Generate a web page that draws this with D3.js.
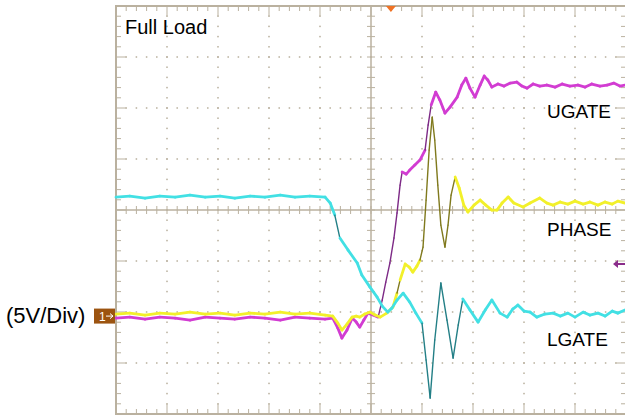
<!DOCTYPE html>
<html>
<head>
<meta charset="utf-8">
<script src="https://cdn.jsdelivr.net/npm/d3@7"></script>
<style>
  html, body { margin: 0; padding: 0; background: #fff; }
  svg { display: block; font-family: "Liberation Sans", Arial, sans-serif; }
</style>
</head>
<body>
<script>
const width = 625;
const height = 416;

// scope settings
const voltsPerDiv = 5;
const groundDiv = -2.08;   // channel ground marker, in divisions from centre

// traces: [time (div), volts]
const lgate = [
  [-5.00, 11.67], [-4.73, 11.76], [-4.43, 11.57], [-4.14, 11.76], [-3.84, 11.67], [-3.55, 11.86],
  [-3.25, 11.67], [-2.96, 11.76], [-2.67, 11.57], [-2.37, 11.76], [-2.08, 11.67], [-1.78, 11.86],
  [-1.49, 11.67], [-1.20, 11.76], [-0.90, 11.67], [-0.80, 11.08], [-0.71, 9.90], [-0.61, 7.65],
  [-0.45, 6.47], [-0.27, 5.20], [-0.18, 4.02], [-0.02, 2.84], [0.12, 1.86], [0.22, 0.98],
  [0.33, 0.39], [0.41, 0.78], [0.51, 1.57], [0.63, 2.25], [0.76, 1.37], [0.88, 0.29],
  [1.00, -0.69], [1.08, -4.31], [1.16, -8.04], [1.25, -2.35], [1.37, 3.24], [1.49, -0.39],
  [1.61, -4.12], [1.71, -0.88], [1.80, 1.67], [1.94, 0.59], [2.10, -0.59], [2.24, 0.59],
  [2.37, 1.57], [2.53, 0.29], [2.67, -0.10], [2.78, 0.69], [2.88, 1.08], [3.00, 0.49],
  [3.12, 0.39], [3.25, -0.10], [3.41, 0.20], [3.57, 0.29], [3.71, 0.00], [3.86, 0.29],
  [4.00, -0.10], [4.16, 0.39], [4.29, 0.10], [4.45, 0.29], [4.59, 0.00], [4.73, 0.49],
  [4.84, 0.29], [4.98, 0.59]
];

const ugate = [
  [-5.00, -0.20], [-4.73, -0.10], [-4.43, -0.29], [-4.14, -0.10], [-3.84, -0.20], [-3.55, -0.39],
  [-3.25, -0.10], [-2.96, -0.20], [-2.67, -0.29], [-2.37, -0.10], [-2.08, -0.20], [-1.78, -0.39],
  [-1.49, -0.10], [-1.20, -0.20], [-0.90, -0.29], [-0.75, -0.20], [-0.65, -1.18], [-0.57, -2.16],
  [-0.47, -1.37], [-0.37, -0.20], [-0.29, -0.59], [-0.22, -1.08], [-0.14, -0.39], [-0.06, 0.29],
  [0.04, 0.10], [0.14, -0.10], [0.22, 1.57], [0.29, 3.33], [0.37, 5.20], [0.45, 7.65],
  [0.51, 10.10], [0.57, 12.84], [0.61, 14.12], [0.69, 13.92], [0.76, 14.31], [0.86, 14.80],
  [0.96, 15.29], [1.06, 16.27], [1.12, 18.73], [1.18, 20.69], [1.27, 21.96], [1.35, 21.18],
  [1.45, 19.90], [1.55, 20.49], [1.69, 21.47], [1.78, 22.65], [1.86, 23.33], [1.94, 22.35],
  [2.04, 21.47], [2.14, 22.65], [2.22, 23.53], [2.29, 23.14], [2.37, 22.45], [2.49, 22.75],
  [2.61, 22.55], [2.73, 22.84], [2.86, 22.94], [2.96, 22.55], [3.06, 22.35], [3.18, 22.75],
  [3.31, 22.55], [3.45, 22.65], [3.61, 22.45], [3.75, 22.75], [3.90, 22.55], [4.06, 22.65],
  [4.20, 22.45], [4.33, 22.75], [4.49, 22.55], [4.63, 22.65], [4.76, 22.84], [4.88, 22.55],
  [4.98, 22.65]
];

const phase = [
  [-5.00, 0.20], [-4.73, 0.29], [-4.43, 0.10], [-4.14, 0.29], [-3.84, 0.20], [-3.55, 0.39],
  [-3.25, 0.20], [-2.96, 0.29], [-2.67, 0.10], [-2.37, 0.29], [-2.08, 0.20], [-1.78, 0.39],
  [-1.49, 0.20], [-1.20, 0.29], [-0.90, 0.10], [-0.75, 0.00], [-0.65, -0.69], [-0.57, -1.37],
  [-0.47, -0.78], [-0.37, -0.10], [-0.29, 0.00], [-0.22, -0.10], [-0.12, 0.20], [-0.02, 0.39],
  [0.08, 0.10], [0.18, -0.10], [0.31, 0.29], [0.43, 0.88], [0.51, 2.25], [0.57, 3.53],
  [0.67, 5.10], [0.75, 4.80], [0.82, 4.31], [0.90, 4.90], [0.96, 5.49], [1.02, 6.76],
  [1.08, 11.37], [1.14, 16.27], [1.20, 19.51], [1.25, 17.25], [1.31, 12.84], [1.37, 8.92],
  [1.45, 6.76], [1.51, 8.92], [1.57, 11.86], [1.65, 13.63], [1.73, 12.55], [1.82, 10.88],
  [1.90, 10.20], [2.02, 10.88], [2.14, 11.37], [2.25, 10.88], [2.37, 10.39], [2.47, 10.39],
  [2.57, 11.08], [2.69, 11.67], [2.80, 11.08], [2.98, 10.69], [3.12, 11.08], [3.31, 11.57],
  [3.45, 11.08], [3.57, 10.88], [3.71, 11.18], [3.86, 10.98], [4.00, 11.27], [4.16, 10.98],
  [4.29, 11.18], [4.45, 10.88], [4.59, 11.18], [4.73, 10.98], [4.84, 11.27], [4.98, 11.08]
];

const traceLabels = ["UGATE", "PHASE", "LGATE"];
const labelVolts = [20.15, 8.5, -2.2];

const svg = d3.select(document.body).append("svg")
  .attr("width", width)
  .attr("height", height);

const x = d3.scaleLinear([-5, 5], [116, 626]);
const yDiv = d3.scaleLinear([-4, 4], [414, 6]);
const y = d3.scaleLinear([(-4 - groundDiv) * voltsPerDiv, (4 - groundDiv) * voltsPerDiv], [414, 6]);

const gridColor = "#bab19f";

// dotted graticule
const grid = svg.append("g").attr("fill", "#b8af9c");
const minor = d3.range(-25, 26).map(d => d / 5);
const minorY = d3.range(-20, 21).map(d => d / 5);
[-4, -3, -2, -1, 1, 2, 3, 4].forEach(c => {
  grid.selectAll(null).data(minorY).join("rect")
    .attr("x", x(c) - 0.75).attr("y", d => yDiv(d) - 0.75)
    .attr("width", 1.5).attr("height", 1.5);
});
[-3, -2, -1, 1, 2, 3].forEach(r => {
  grid.selectAll(null).data(minor).join("rect")
    .attr("x", d => x(d) - 0.75).attr("y", yDiv(r) - 0.75)
    .attr("width", 1.5).attr("height", 1.5);
});

// frame + centre axes with ticks
const frame = svg.append("g").attr("stroke", gridColor).attr("fill", "none");
frame.append("rect")
  .attr("x", x(-5)).attr("y", yDiv(4))
  .attr("width", x(5) - x(-5)).attr("height", yDiv(-4) - yDiv(4))
  .attr("stroke-width", 2);
frame.append("line").attr("x1", x(0)).attr("x2", x(0)).attr("y1", yDiv(4)).attr("y2", yDiv(-4)).attr("stroke-width", 1.5);
frame.append("line").attr("x1", x(-5)).attr("x2", x(5)).attr("y1", yDiv(0)).attr("y2", yDiv(0)).attr("stroke-width", 1.5);

const isMajor = d => Math.abs(d - Math.round(d)) < 1e-6;
frame.selectAll(".tx").data(minor).join("g").each(function(d) {
  const g = d3.select(this);
  const len = isMajor(d) ? 10 : 5;
  g.append("line").attr("x1", x(d)).attr("x2", x(d)).attr("y1", yDiv(4)).attr("y2", yDiv(4) + len);
  g.append("line").attr("x1", x(d)).attr("x2", x(d)).attr("y1", yDiv(-4)).attr("y2", yDiv(-4) - len);
  g.append("line").attr("x1", x(d)).attr("x2", x(d)).attr("y1", yDiv(0) - 4).attr("y2", yDiv(0) + 4);
});
frame.selectAll(".ty").data(minorY).join("g").each(function(d) {
  const g = d3.select(this);
  const len = isMajor(d) ? 10 : 5;
  g.append("line").attr("x1", x(-5)).attr("x2", x(-5) + len).attr("y1", yDiv(d)).attr("y2", yDiv(d));
  g.append("line").attr("x1", x(5)).attr("x2", x(5) - len).attr("y1", yDiv(d)).attr("y2", yDiv(d));
  g.append("line").attr("x1", x(0) - 4).attr("x2", x(0) + 4).attr("y1", yDiv(d)).attr("y2", yDiv(d));
});

// traces: fast edges come out thin and dark, as on the scope screen
function drawTrace(data, bright, dark) {
  const g = svg.append("g").attr("fill", "none").attr("stroke-linecap", "round");
  const segs = d3.pairs(data);
  g.selectAll("line").data(segs).join("line")
    .attr("x1", d => x(d[0][0])).attr("y1", d => y(d[0][1]))
    .attr("x2", d => x(d[1][0])).attr("y2", d => y(d[1][1]))
    .each(function(d) {
      const dx = x(d[1][0]) - x(d[0][0]);
      const dy = y(d[1][1]) - y(d[0][1]);
      const steep = Math.abs(dy) > 4 * Math.abs(dx);
      d3.select(this)
        .attr("stroke", steep ? dark : bright)
        .attr("stroke-width", steep ? 1.4 : 2.8);
    });
}
drawTrace(ugate, "#d23cd2", "#7d2a86");
drawTrace(phase, "#f2f02a", "#807a1e");
drawTrace(lgate, "#42e0e4", "#237f86");

// labels
svg.append("text").attr("x", 125).attr("y", 34).attr("font-size", 20).text("Full Load");
svg.selectAll(".lbl").data(traceLabels).join("text")
  .attr("x", 547).attr("y", (d, i) => y(labelVolts[i]) + 7)
  .attr("font-size", 19).attr("fill", "#000")
  .text(d => d);
svg.append("text").attr("x", 6).attr("y", 323).attr("font-size", 22).text("(5V/Div)");

// channel 1 ground marker
const gy = y(0);
svg.append("rect").attr("x", 94).attr("y", gy - 7.5).attr("width", 21).attr("height", 15).attr("fill", "#9c5410");
svg.append("text").attr("x", 99).attr("y", gy + 5).attr("font-size", 12).attr("fill", "#fff").text("1");
svg.append("path").attr("d", `M106,${gy}h7m-3,-2.5l3,2.5l-3,2.5`).attr("stroke", "#fff").attr("fill", "none").attr("stroke-width", 1);

// trigger position and level markers
svg.append("path").attr("d", `M${x(0.39) - 5},6h10l-5,6z`).attr("fill", "#f07224");
const ty = yDiv(-1.06);
svg.append("path").attr("d", `M613,${ty}l5,-4v3h7v2h-7v3z`).attr("fill", "#8a2c8a");
</script>
</body>
</html>
